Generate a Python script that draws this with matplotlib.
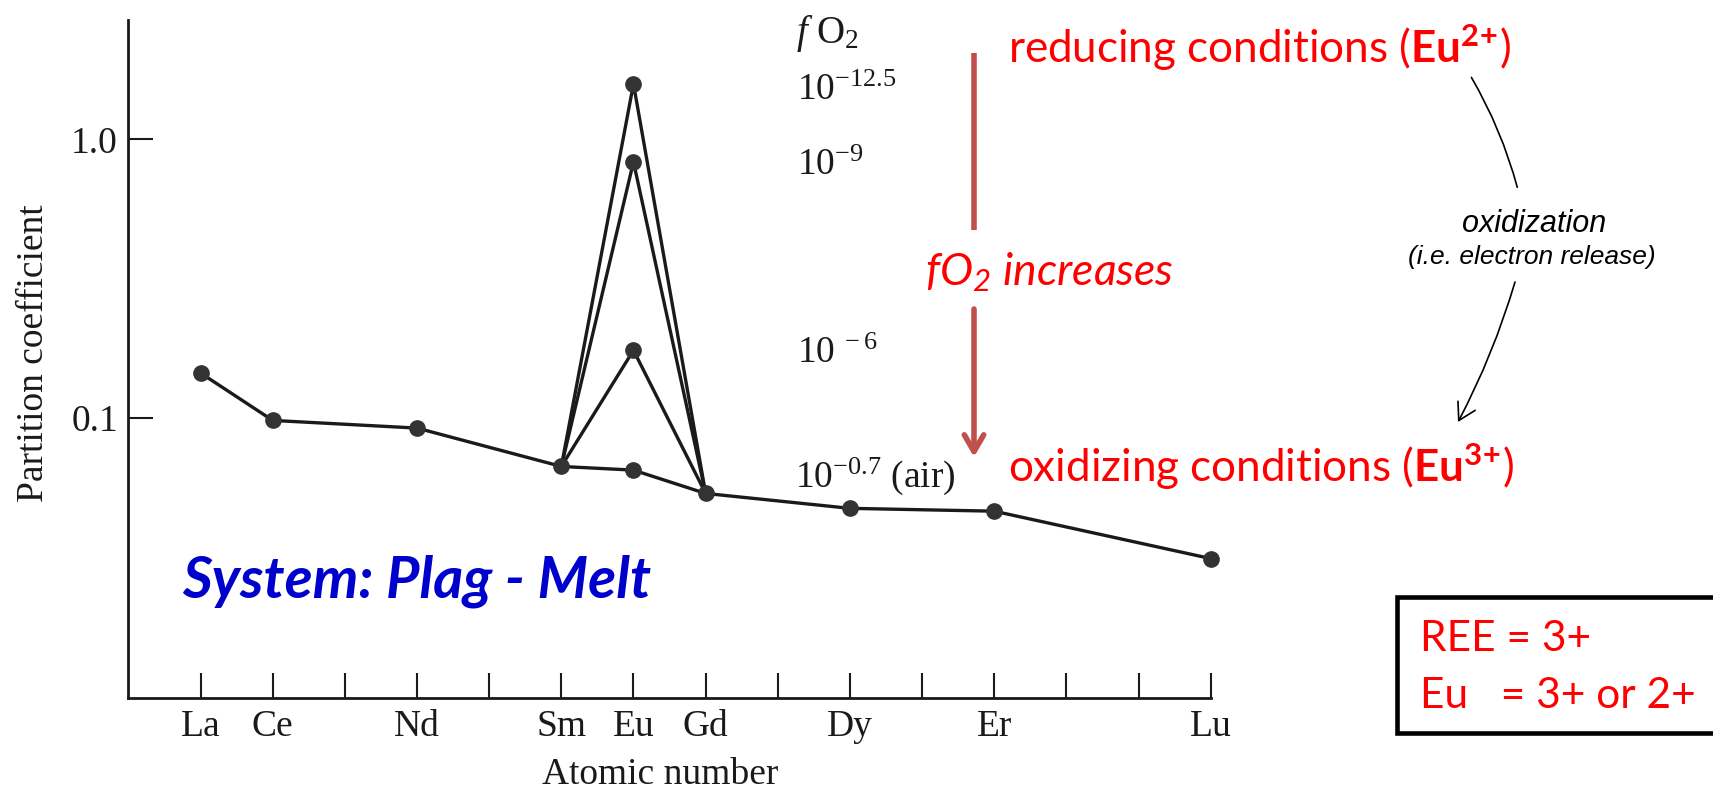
import matplotlib
matplotlib.use("Agg")
import matplotlib.pyplot as plt
from matplotlib.patches import FancyArrowPatch, Rectangle
from matplotlib.lines import Line2D
from matplotlib.ticker import FixedLocator, NullLocator

# REE partition coefficients, plagioclase - melt
elements = ["La", "Ce", "Nd", "Sm", "Eu", "Gd", "Dy", "Er", "Lu"]
atomic_numbers = [57, 58, 60, 62, 63, 64, 66, 68, 71]
d_air = [0.145, 0.098, 0.092, 0.067, 0.065, 0.0536, 0.0474, 0.0463, 0.0313]

# Eu values at lower oxygen fugacity (Sm and Gd unchanged)
eu_reduced = [1.58, 0.83, 0.175]
fo2_labels = [r"$\mathregular{10^{-12.5}}$", r"$\mathregular{10^{-9}}$",
              r"$\mathregular{10^{\ -6}}$", r"$\mathregular{10^{-0.7}}$ (air)"]

all_ticks = list(range(57, 72))
yticks = [0.1, 1.0]
ytick_labels = ["0.1", "1.0"]

plt.rcParams["mathtext.fontset"] = "custom"
plt.rcParams["mathtext.rm"] = "Liberation Serif"
plt.rcParams["mathtext.it"] = "Liberation Serif:italic"
plt.rcParams["mathtext.bf"] = "Lato:bold"

W, H = 1713, 789
fig = plt.figure(figsize=(W / 100, H / 100), dpi=100)
fig.patch.set_facecolor("white")


def fx(x):
    return x / W


def fy(y):
    return 1 - y / H


ink = "#1a1a1a"
serif = "Liberation Serif"

ax = fig.add_axes([fx(127.7), fy(698), (1210.7 - 127.7) / W, (698 - 20) / H])
ax.set_yscale("log")
ax.set_xlim(55.99, 71)
ax.set_ylim(0.00989, 2.68)

# main curve (air) and Eu spikes at reducing conditions
ax.plot(atomic_numbers, d_air, color=ink, lw=2.4, marker="o", ms=11,
        mfc="#333333", mec="#333333", clip_on=False, zorder=3)
i_sm, i_eu, i_gd = elements.index("Sm"), elements.index("Eu"), elements.index("Gd")
for v in eu_reduced:
    ax.plot([atomic_numbers[i_sm], atomic_numbers[i_eu], atomic_numbers[i_gd]],
            [d_air[i_sm], v, d_air[i_gd]], color=ink, lw=2.4, zorder=2)
    ax.plot(atomic_numbers[i_eu], v, "o", ms=11, color="#333333", zorder=4)

for s in ["top", "right"]:
    ax.spines[s].set_visible(False)
for s in ["left", "bottom"]:
    ax.spines[s].set_linewidth(2)
    ax.spines[s].set_color(ink)

ax.xaxis.set_major_locator(FixedLocator(all_ticks))
ax.set_xticklabels([elements[atomic_numbers.index(t)] if t in atomic_numbers else ""
                    for t in all_ticks])
ax.yaxis.set_major_locator(FixedLocator(yticks))
ax.yaxis.set_minor_locator(NullLocator())
ax.set_yticklabels(ytick_labels)
ax.tick_params(direction="in", length=18, width=1.5, color=ink, labelcolor=ink,
               labelsize=27)
ax.tick_params(axis="x", pad=8)
ax.tick_params(axis="y", pad=7)
for lab in ax.get_xticklabels() + ax.get_yticklabels():
    lab.set_family(serif)

ax.set_xlabel("Atomic number", family=serif, fontsize=27, color=ink, va="top")
ax.xaxis.set_label_coords(0.492, -0.088)
ax.set_ylabel("Partition coefficient", family=serif, fontsize=27, color=ink)
ax.yaxis.set_label_coords(-0.071, 0.509)

# fO2 column
fig.text(fx(796), fy(43), r"$f\ \mathregular{O_2}$", family=serif, fontsize=28,
         color=ink, va="baseline")
for lab, (x, y) in zip(fo2_labels, [(797, 100), (797, 175), (797, 363), (795, 487)]):
    fig.text(fx(x), fy(y), lab, family=serif, fontsize=27, color=ink, va="baseline")

# fO2 increase arrow
arrow_col = "#C0504D"
fig.add_artist(Line2D([fx(974), fx(974)], [fy(53), fy(230)], color=arrow_col, lw=4,
                      solid_capstyle="butt"))
fig.add_artist(FancyArrowPatch((fx(974), fy(309)), (fx(974), fy(457)),
                               transform=fig.transFigure, color=arrow_col, lw=4,
                               arrowstyle="->,head_length=0.6,head_width=0.35",
                               mutation_scale=20, shrinkA=0, shrinkB=0))
fig.text(fx(925), fy(285), r"$\mathregular{fO_2}$ increases", family="Lato",
         style="italic", fontsize=32, color="red", va="baseline")

red = "#FF0000"
fig.text(fx(1008), fy(63), r"reducing conditions ($\mathbf{Eu^{2\!+\!}}$)",
         family="Lato", fontsize=31.7, color=red, va="baseline")
fig.text(fx(1008), fy(482), r"oxidizing conditions ($\mathbf{Eu^{3\!+\!}}$)",
         family="Lato", fontsize=31.7, color=red, va="baseline")

# oxidization arrows
fig.add_artist(FancyArrowPatch((fx(1470), fy(75)), (fx(1518), fy(190)),
                               transform=fig.transFigure, arrowstyle="-", color="black",
                               lw=1.2, connectionstyle="arc3,rad=-0.07"))
fig.add_artist(FancyArrowPatch((fx(1515), fy(282)), (fx(1458), fy(422)),
                               transform=fig.transFigure, color="black", lw=1.2,
                               arrowstyle="->,head_length=0.6,head_width=0.35",
                               mutation_scale=20, shrinkA=0, shrinkB=0,
                               connectionstyle="arc3,rad=-0.05"))
fig.text(fx(1534), fy(232), "oxidization", family="Liberation Sans", style="italic",
         fontsize=22, ha="center", va="baseline")
fig.text(fx(1532), fy(264), "(i.e. electron release)", family="Liberation Sans",
         style="italic", fontsize=19, ha="center", va="baseline")

fig.text(fx(182), fy(597), "System: Plag - Melt", family="Lato", weight="bold",
         style="italic", fontsize=41.5, color="#0000CC", va="baseline")

# valence box
fig.add_artist(Rectangle((fx(1397), fy(733)), fx(1725 - 1397), (733 - 597) / H,
                         transform=fig.transFigure, fc="white", ec="black", lw=3.3,
                         clip_on=False))
fig.text(fx(1420), fy(651), "REE = 3+", family="Lato", fontsize=30.5, color=red,
         va="baseline")
fig.text(fx(1420), fy(708), "Eu   = 3+ or 2+", family="Lato", fontsize=30.5, color=red,
         va="baseline")

fig.savefig("out.png", dpi=100)
